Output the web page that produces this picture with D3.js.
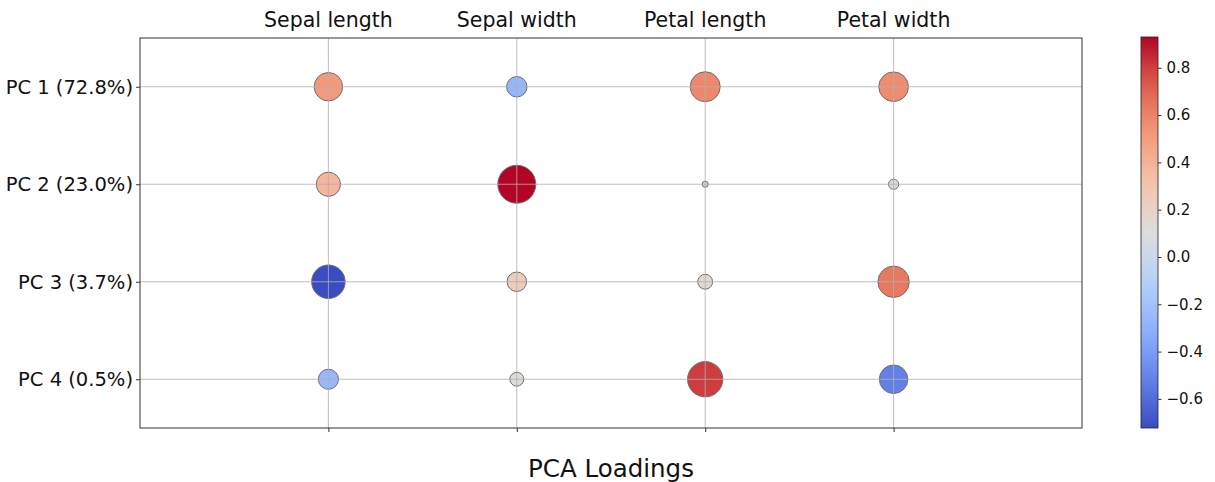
<!DOCTYPE html>
<html><head><meta charset="utf-8">
<script src="https://cdn.jsdelivr.net/npm/d3@7"></script>
<style>body{margin:0;background:#fff}svg{display:block;font-family:"DejaVu Sans",sans-serif}</style>
</head><body><svg id="c" width="1215" height="482"></svg>
<script>
const features = ["Sepal length","Sepal width","Petal length","Petal width"];
const components = ["PC 1 (72.8%)","PC 2 (23.0%)","PC 3 (3.7%)","PC 4 (0.5%)"];
const pc1 = [0.521,-0.269,0.580,0.565];
const pc2 = [0.377,0.930,0.024,0.067];
const pc3 = [-0.723,0.244,0.142,0.634];
const pc4 = [-0.261,0.124,0.801,-0.524];
const cbTicks = [-0.6,-0.4,-0.2,0.0,0.2,0.4,0.6,0.8];
const loadings = [pc1,pc2,pc3,pc4];

const svg = d3.select("#c");
const L=140,R=1082,T=38,B=428;
const x = d3.scaleLinear().domain([-1,4]).range([L,R]);
const y = d3.scaleLinear().domain([-0.5,3.5]).range([T,B]);
const vmin = d3.min(loadings.flat()), vmax = d3.max(loadings.flat());
const cw = ["#3b4cc0","#6282ea","#8db0fe","#b8d0f9","#dddddd","#f5c4ad","#f49a7b","#de604d","#b40426"];
const interp = d3.piecewise(d3.interpolateRgb, cw);
const color = v => interp((v-vmin)/(vmax-vmin));
const rScale = d3.scaleSqrt().domain([0, 0.93]).range([0, 19]);

const data = [];
loadings.forEach((row,i)=>row.forEach((v,j)=>data.push({i,j,v})));

svg.append("g").selectAll("circle").data(data).join("circle")
  .attr("cx",d=>x(d.j)).attr("cy",d=>y(d.i)).attr("r",d=>rScale(Math.abs(d.v)))
  .attr("fill",d=>color(d.v)).attr("stroke","#707070").attr("stroke-width",1);

const g = svg.append("g").attr("stroke","#b0b0b0").attr("stroke-width",0.9).attr("opacity",0.9);
features.forEach((f,j)=>g.append("line").attr("x1",x(j)).attr("x2",x(j)).attr("y1",T).attr("y2",B));
components.forEach((c,i)=>g.append("line").attr("x1",L).attr("x2",R).attr("y1",y(i)).attr("y2",y(i)));

svg.append("rect").attr("x",L).attr("y",T).attr("width",R-L).attr("height",B-T)
  .attr("fill","none").attr("stroke","#333").attr("stroke-width",1);

const xa = svg.append("g").attr("transform",`translate(0,${B})`)
  .call(d3.axisBottom(x).tickValues([0,1,2,3]).tickSize(4).tickFormat(""));
xa.select(".domain").remove();
xa.selectAll("line").attr("stroke","#333");
svg.append("g").selectAll("text").data(features).join("text")
  .attr("x",(d,j)=>x(j)).attr("y",27).attr("text-anchor","middle")
  .attr("font-size",20.5).attr("fill","#111").text(d=>d);

const ya = svg.append("g").attr("transform",`translate(${L},0)`)
  .call(d3.axisLeft(y).tickValues([0,1,2,3]).tickSize(4).tickPadding(3).tickFormat(i=>components[i]));
ya.select(".domain").remove();
ya.selectAll("line").attr("stroke","#333");
ya.selectAll("text").attr("font-size",19.5).attr("fill","#111").attr("font-family","DejaVu Sans");

svg.append("text").attr("x",611).attr("y",477).attr("text-anchor","middle")
  .attr("font-size",24.5).attr("fill","#111").text("PCA Loadings");

const cx0=1141, cwid=17;
const cy = d3.scaleLinear().domain([vmin,vmax]).range([B,T-1]);
const defs = svg.append("defs");
const grad = defs.append("linearGradient").attr("id","cb").attr("x1",0).attr("x2",0).attr("y1",1).attr("y2",0);
d3.range(0,1.0001,0.05).forEach(t=>grad.append("stop").attr("offset",t).attr("stop-color",interp(t)));
svg.append("rect").attr("x",cx0).attr("y",T-1).attr("width",cwid).attr("height",B-T+1)
  .attr("fill","url(#cb)").attr("stroke","#222").attr("stroke-width",0.8);
const ca = svg.append("g").attr("transform",`translate(${cx0+cwid},0)`)
  .call(d3.axisRight(cy).tickValues(cbTicks).tickSize(3.5).tickPadding(5).tickFormat(d=>d3.format(".1f")(d).replace("-","\u2212")));
ca.select(".domain").remove();
ca.selectAll("line").attr("stroke","#333");
ca.selectAll("text").attr("font-size",15).attr("fill","#111").attr("font-family","DejaVu Sans");
</script></body></html>
